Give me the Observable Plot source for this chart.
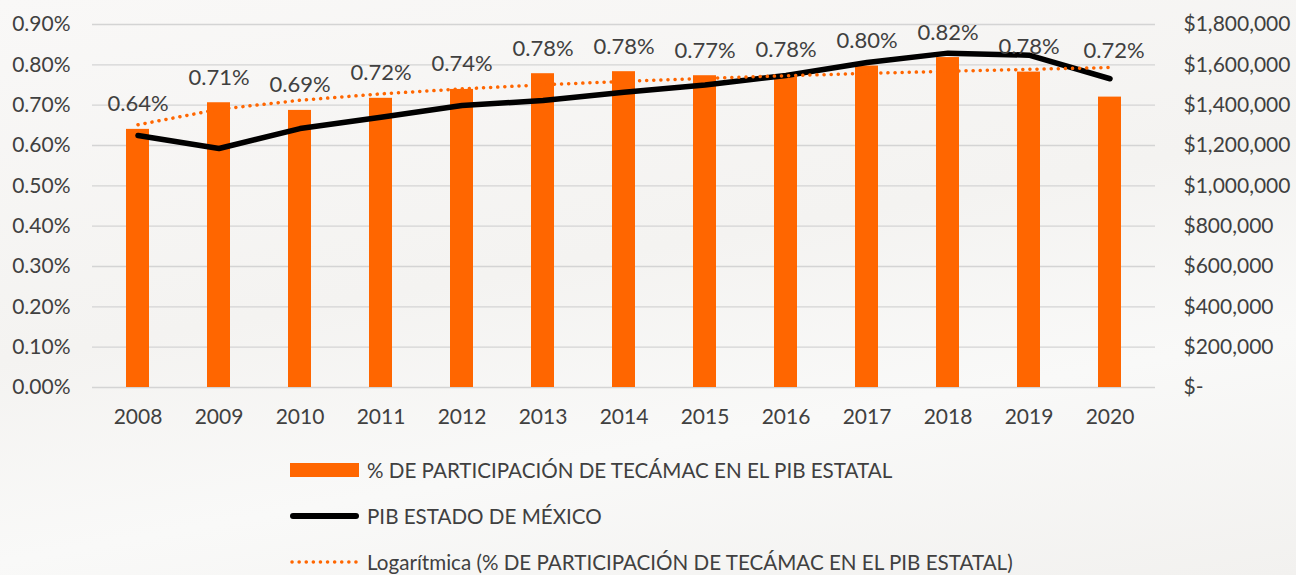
<!DOCTYPE html>
<html><head><meta charset="utf-8">
<script src="https://cdn.jsdelivr.net/npm/d3@7"></script>
<script src="https://cdn.jsdelivr.net/npm/@observablehq/plot@0.6"></script>
<style>
body{margin:0;background:#f6f5f3;font-family:Lato,"Open Sans",sans-serif;}
#chart{position:relative;width:1296px;height:575px;overflow:hidden;background:linear-gradient(170deg,#f9f8f7 0%,#f4f3f1 45%,#f9f9f8 70%,#f2f1ef 100%);}
#plot{position:absolute;left:0;top:0}
.legend{position:absolute;left:290px;top:447px;color:#404040;font-size:20.6px}
.row{height:46px;display:flex;align-items:center;white-space:nowrap}
.row svg{margin-right:8px}
</style></head>
<body>
<div id="chart"><div id="plot"></div>
<div class="legend">
 <div class="row"><svg width="69" height="16"><rect x="0" y="1" width="69" height="14" fill="#ff6600"/></svg><span>% DE PARTICIPACIÓN DE TECÁMAC EN EL PIB ESTATAL</span></div>
 <div class="row"><svg width="69" height="16"><line x1="3" y1="8" x2="66" y2="8" stroke="#000" stroke-width="6" stroke-linecap="round"/></svg><span>PIB ESTADO DE MÉXICO</span></div>
 <div class="row"><svg width="69" height="16"><line x1="2" y1="8" x2="68" y2="8" stroke="#ff6600" stroke-width="3.5" stroke-dasharray="0.1 7" stroke-linecap="round"/></svg><span>Logarítmica (% DE PARTICIPACIÓN DE TECÁMAC EN EL PIB ESTATAL)</span></div>
</div>
</div>
<script>
const years = ["2008","2009","2010","2011","2012","2013","2014","2015","2016","2017","2018","2019","2020"];
const participacion = [0.640,0.706,0.687,0.717,0.739,0.778,0.783,0.773,0.776,0.797,0.818,0.782,0.720];
const pibEstado = [1250000,1185000,1284000,1340000,1398000,1423000,1464000,1500000,1547000,1612000,1658000,1648000,1531000];
const leftTicks = [0,0.1,0.2,0.3,0.4,0.5,0.6,0.7,0.8,0.9];
const leftTickLabels = ["0.00%","0.10%","0.20%","0.30%","0.40%","0.50%","0.60%","0.70%","0.80%","0.90%"];
const rightTickLabels = ["$-","$200,000","$400,000","$600,000","$800,000","$1,000,000","$1,200,000","$1,400,000","$1,600,000","$1,800,000"];

const pibMax = 1800000, pctMax = 0.9;
const toPct = v => v / pibMax * pctMax;

// logarithmic trendline (least squares on ln(x)), as the spreadsheet computes it
const lx = years.map((_, i) => Math.log(i + 1));
const mx = d3.mean(lx), my = d3.mean(participacion);
const b = d3.sum(lx, (v, i) => (v - mx) * (participacion[i] - my)) / d3.sum(lx, v => (v - mx) ** 2);
const a = my - b * mx;

const data = years.map((y, i) => ({year: y, pct: participacion[i], pib: pibEstado[i], trend: a + b * lx[i]}));
const last = years[years.length - 1];
const fmt = d => d.pct.toFixed(2) + "%";

const plot = Plot.plot({
  width: 1296, height: 440,
  marginLeft: 92, marginRight: 141, marginTop: 24, marginBottom: 53,
  style: {background: "transparent", color: "#404040", fontFamily: "Lato, 'Open Sans', sans-serif", fontSize: "21px"},
  x: {domain: years, paddingInner: 0.72, paddingOuter: 0.36, label: null},
  y: {domain: [0, pctMax], label: null},
  marks: [
    Plot.gridY(leftTicks, {stroke: "#d4d4d4", strokeOpacity: 1, strokeWidth: 1.3}),
    Plot.barY(data, {x: "year", y: "pct", fill: "#ff6600"}),
    Plot.line(data, {x: "year", y: d => toPct(d.pib), stroke: "#000", strokeWidth: 5.5, strokeLinejoin: "round", strokeLinecap: "round"}),
    Plot.line(data, {x: "year", y: "trend", stroke: "#ff6600", strokeWidth: 3.5, strokeDasharray: "0.1 7", strokeLinecap: "round"}),
    Plot.text(data.filter(d => d.year !== last), {x: "year", y: "pct", text: fmt, dy: -25, fontSize: 22, fill: "#404040"}),
    Plot.text(data.filter(d => d.year === last), {x: "year", y: "pct", text: fmt, dy: -46, dx: 4, fontSize: 22, fill: "#404040"}),
    Plot.axisY(leftTicks, {anchor: "left", tickSize: 0, tickPadding: 22, tickFormat: (d, i) => leftTickLabels[i], fontSize: 21, label: null}),
    Plot.axisY(leftTicks, {anchor: "right", tickSize: 0, tickPadding: 28, tickFormat: (d, i) => rightTickLabels[i], fontSize: 21, label: null}),
    Plot.axisX({tickSize: 0, tickPadding: 22, fontSize: 21, label: null})
  ]
});
document.getElementById("plot").appendChild(plot);
</script>
</body></html>
